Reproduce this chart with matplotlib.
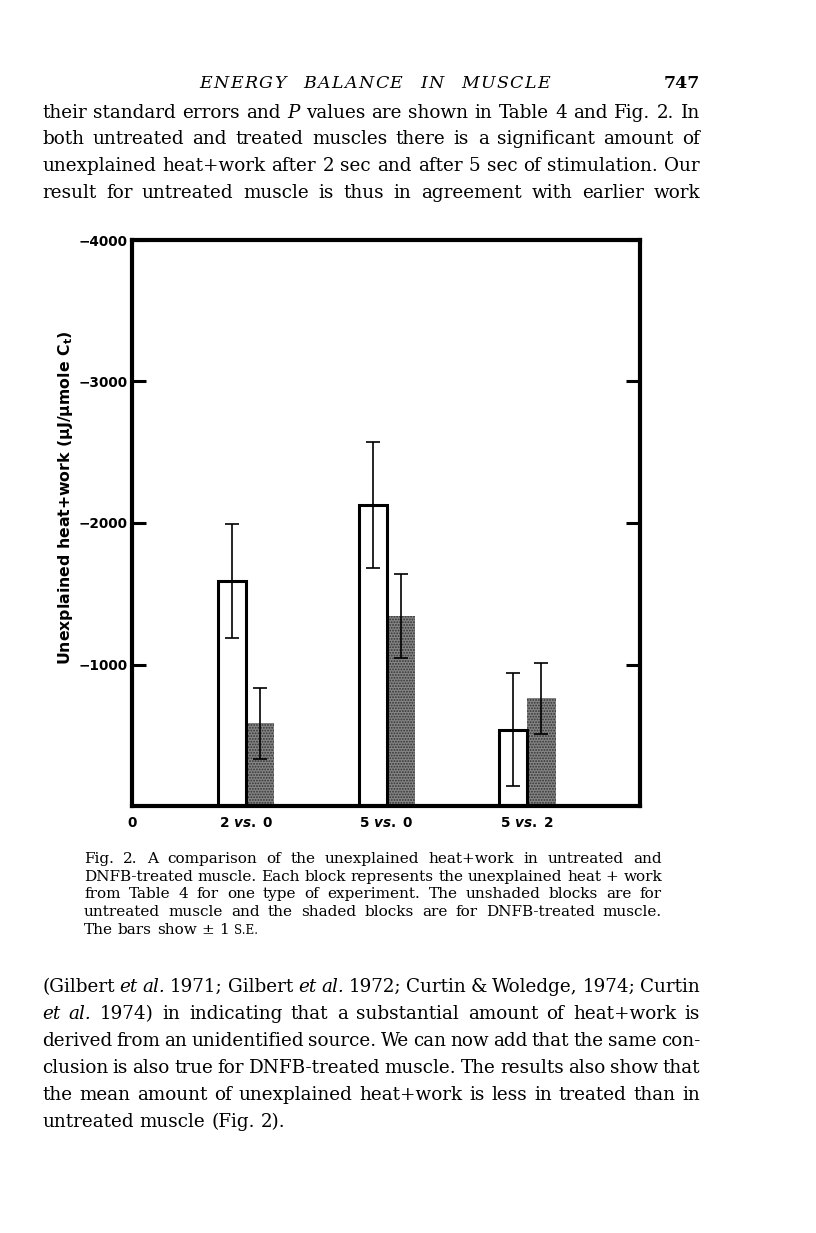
import numpy as np
import matplotlib
matplotlib.use("Agg")
import matplotlib.pyplot as plt

W, H = 816, 1233
SERIF = "DejaVu Serif"

plt.rcParams["mathtext.fontset"] = "custom"
plt.rcParams["mathtext.rm"] = "DejaVu Sans:bold"
plt.rcParams["mathtext.it"] = "DejaVu Sans:italic:bold"
plt.rcParams["hatch.linewidth"] = 0.9

# --- data (values are negative, axis runs 0 -> -4000) ---
comparisons = ["2 $\\mathit{vs.}$ 0", "5 $\\mathit{vs.}$ 0", "5 $\\mathit{vs.}$ 2"]
untreated = [-1590, -2130, -540]
untreated_se = [400, 445, 397]
treated = [-585, -1345, -760]
treated_se = [250, 297, 248]
y_ticks = [-1000, -2000, -3000, -4000]
y_label = "Unexplained heat+work (μJ/μmole C$_{\\mathrm{t}}$)"

header = "ENERGY BALANCE IN MUSCLE"
page_number = "747"
body_top = [
    "their standard errors and _P values are shown in Table 4 and Fig. 2. In",
    "both untreated and treated muscles there is a significant amount of",
    "unexplained heat+work after 2 sec and after 5 sec of stimulation. Our",
    "result for untreated muscle is thus in agreement with earlier work",
]
caption = [
    "Fig. 2. A comparison of the unexplained heat+work in untreated and",
    "DNFB-treated muscle. Each block represents the unexplained heat + work",
    "from Table 4 for one type of experiment. The unshaded blocks are for",
    "untreated muscle and the shaded blocks are for DNFB-treated muscle.",
    "The bars show ± 1 ^S.E.",
]
body_bottom = [
    "(Gilbert _et _al. 1971; Gilbert _et _al. 1972; Curtin & Woledge, 1974; Curtin",
    "_et _al. 1974) in indicating that a substantial amount of heat+work is",
    "derived from an unidentified source. We can now add that the same con-",
    "clusion is also true for DNFB-treated muscle. The results also show that",
    "the mean amount of unexplained heat+work is less in treated than in",
    "untreated muscle (Fig. 2).",
]

fig = plt.figure(figsize=(W / 100, H / 100), dpi=100)
ax = fig.add_axes([132 / W, 1 - 806 / H, 508 / W, 566 / H])

groups = np.arange(1, len(comparisons) + 1)
bw = 0.2
ax.bar(groups + bw / 2, treated, bw, facecolor="0.52", edgecolor="0.2",
       hatch="......", linewidth=0, zorder=2)
ax.bar(groups - bw / 2, untreated, bw, facecolor="white", edgecolor="black",
       linewidth=2.2, zorder=3)
ax.errorbar(groups - bw / 2, untreated, yerr=untreated_se, fmt="none",
            ecolor="black", elinewidth=1.2, capsize=4.7, capthick=1.2, zorder=6)
ax.errorbar(groups + bw / 2, treated, yerr=treated_se, fmt="none",
            ecolor="black", elinewidth=1.2, capsize=4.7, capthick=1.2, zorder=6)

x_left = 0.19
ax.set_xlim(x_left, 3.80)
ax.set_ylim(0, -4000)
ax.set_yticks(y_ticks)
ax.set_yticklabels([f"\u2212{abs(v)}" for v in y_ticks], fontweight="bold")
ax.set_xticks([x_left] + list(groups))
ax.set_xticklabels(["0"] + comparisons, fontweight="bold")
ax.tick_params(axis="y", direction="in", length=10, width=2.2, left=True,
               right=True, pad=3, labelsize=9.8)
ax.tick_params(axis="x", length=0, pad=7, labelsize=9.8)
for s in ax.spines.values():
    s.set_linewidth(3)
    s.set_zorder(10)
ax.set_ylabel(y_label, fontsize=11.3, fontweight="bold")
ax.yaxis.set_label_coords(-0.113, 0.545)

renderer = fig.canvas.get_renderer()


def place(txt, px, py, size, **kw):
    return fig.text(px / W, 1 - py / H, txt, fontsize=size, family=SERIF,
                    va="baseline", ha="left", **kw)


def draw_line(line, x0, x1, py, size, justify=True):
    texts = []
    for w in line.split():
        style, s = "normal", size
        if w.startswith("_"):
            style, w = "italic", w[1:]
        elif w.startswith("^"):
            s, w = size * 0.78, w[1:]
        texts.append(place(w, 0, py, s, style=style))
    widths = [t.get_window_extent(renderer).width for t in texts]
    if justify and len(texts) > 1:
        gap = (x1 - x0 - sum(widths)) / (len(texts) - 1)
    else:
        gap = size * 100 / 72 * 0.33
    x = x0
    for t, w in zip(texts, widths):
        t.set_x(x / W)
        x += w + gap


def draw_block(lines, x0, x1, py0, step, size, last_justified=False):
    for i, line in enumerate(lines):
        just = last_justified or i < len(lines) - 1
        draw_line(line, x0, x1, py0 + i * step, size, justify=just)


# running head, letter-spaced italic caps
words = header.split()
word_chars = []
for w in words:
    chars = [place(c, 0, 88, 12.5, style="italic") for c in w]
    cw = [t.get_window_extent(renderer).width for t in chars]
    word_chars.append((chars, cw))
track = 1.5
word_w = [sum(cw) + track * (len(cw) - 1) for _, cw in word_chars]
gap = (550 - 199 - sum(word_w)) / (len(words) - 1)
x = 199
for (chars, cw), ww in zip(word_chars, word_w):
    cx = x
    for t, w in zip(chars, cw):
        t.set_x(cx / W)
        cx += w + track
    x += ww + gap
place(page_number, 700, 88, 12.5, fontweight="bold").set_ha("right")

draw_block(body_top, 42, 700, 118, 26.5, 13.2, last_justified=True)
draw_block(caption, 84, 662, 863, 17.7, 11)
draw_block(body_bottom, 42, 700, 992, 27.0, 13.2)

fig.savefig("out.png", dpi=100, facecolor="white")
